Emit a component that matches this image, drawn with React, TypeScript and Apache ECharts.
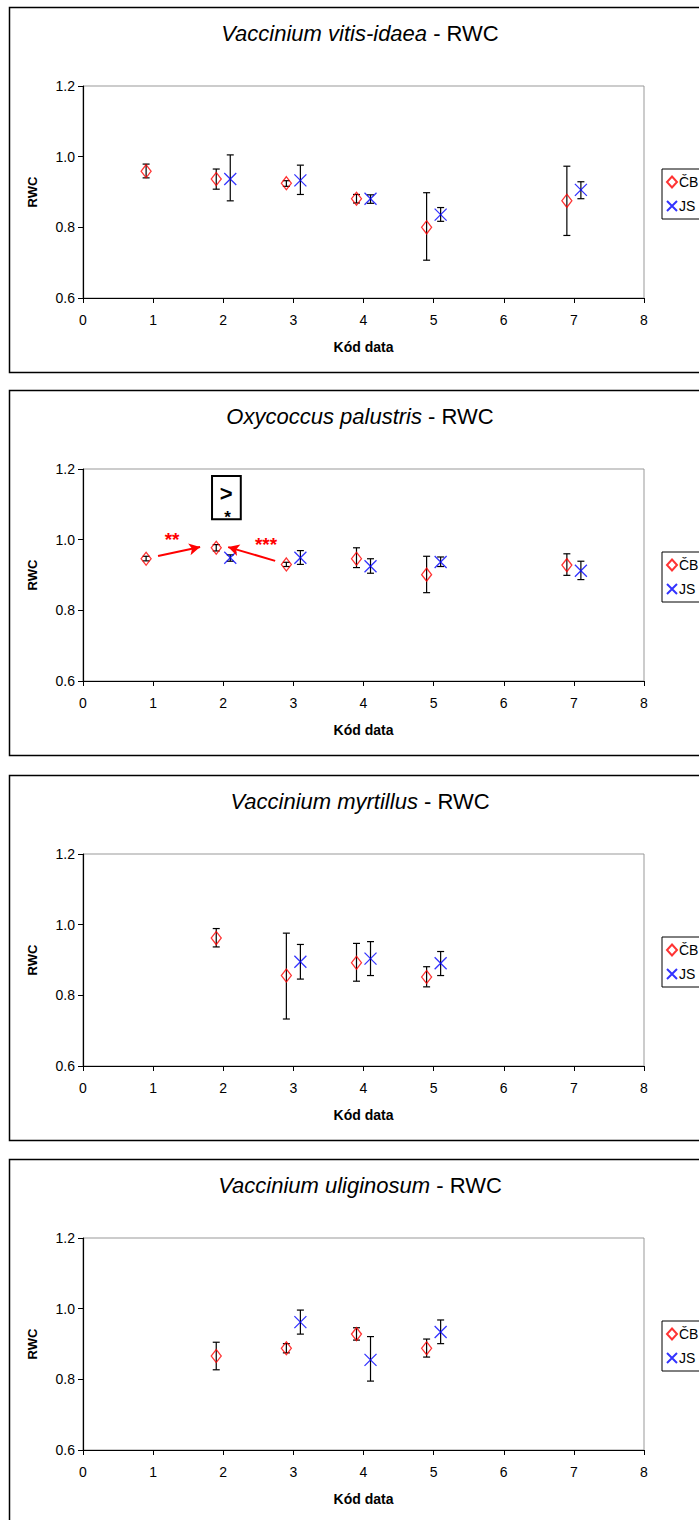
import React, { useEffect, useRef } from "react";
import * as echarts from "echarts";

const FONT = "'Liberation Sans', Arial, sans-serif";

const speciesNames = ["Vaccinium vitis-idaea", "Oxycoccus palustris", "Vaccinium myrtillus", "Vaccinium uliginosum"];
const titleSuffix = " - RWC";
const seriesNames = ["ČB", "JS"];
const xAxisName = "Kód data";
const yAxisName = "RWC";
const xTicks = [0, 1, 2, 3, 4, 5, 6, 7, 8];
const yTicks = [0.6, 0.8, 1.0, 1.2];

// Chart 1 – Vaccinium vitis-idaea
const vvCbX = [0.9, 1.9, 2.9, 3.9, 4.9, 6.9];
const vvCbY = [0.959, 0.937, 0.925, 0.881, 0.8, 0.875];
const vvCbLo = [0.94, 0.908, 0.916, 0.869, 0.707, 0.777];
const vvCbHi = [0.979, 0.965, 0.932, 0.893, 0.898, 0.973];
const vvJsX = [2.1, 3.1, 4.1, 5.1, 7.1];
const vvJsY = [0.937, 0.933, 0.881, 0.836, 0.906];
const vvJsLo = [0.875, 0.893, 0.868, 0.817, 0.881];
const vvJsHi = [1.005, 0.976, 0.892, 0.856, 0.929];

// Chart 2 – Oxycoccus palustris
const opCbX = [0.9, 1.9, 2.9, 3.9, 4.9, 6.9];
const opCbY = [0.946, 0.977, 0.93, 0.946, 0.901, 0.928];
const opCbLo = [0.94, 0.968, 0.924, 0.921, 0.85, 0.899];
const opCbHi = [0.953, 0.986, 0.936, 0.977, 0.953, 0.96];
const opJsX = [2.1, 3.1, 4.1, 5.1, 7.1];
const opJsY = [0.949, 0.949, 0.925, 0.937, 0.912];
const opJsLo = [0.939, 0.93, 0.905, 0.924, 0.887];
const opJsHi = [0.957, 0.969, 0.946, 0.951, 0.939];

// Chart 3 – Vaccinium myrtillus
const vmCbX = [1.9, 2.9, 3.9, 4.9];
const vmCbY = [0.962, 0.856, 0.892, 0.852];
const vmCbLo = [0.937, 0.733, 0.84, 0.824];
const vmCbHi = [0.989, 0.976, 0.947, 0.881];
const vmJsX = [3.1, 4.1, 5.1];
const vmJsY = [0.895, 0.904, 0.891];
const vmJsLo = [0.846, 0.856, 0.856];
const vmJsHi = [0.944, 0.952, 0.924];

// Chart 4 – Vaccinium uliginosum
const vuCbX = [1.9, 2.9, 3.9, 4.9];
const vuCbY = [0.866, 0.888, 0.928, 0.888];
const vuCbLo = [0.827, 0.875, 0.911, 0.863];
const vuCbHi = [0.905, 0.901, 0.946, 0.914];
const vuJsX = [3.1, 4.1, 5.1];
const vuJsY = [0.962, 0.855, 0.934];
const vuJsLo = [0.928, 0.795, 0.901];
const vuJsHi = [0.996, 0.921, 0.968];

// Significance annotations (chart 2), in data coordinates
const sigArrows = [
  [[1.07, 0.954], [1.67, 0.979]],
  [[2.74, 0.94], [2.07, 0.979]],
];
const sigLabels = [
  { text: "**", coord: [1.27, 1.0] },
  { text: "***", coord: [2.61, 0.986] },
];
const sigBox = [[1.84, 1.18], [2.25, 1.058]];
const sigBoxTexts = [
  { text: ">", coord: [2.04, 1.132], size: 22 },
  { text: "*", coord: [2.06, 1.062], size: 17 },
];

const charts = [
  { cb: [vvCbX, vvCbY, vvCbLo, vvCbHi], js: [vvJsX, vvJsY, vvJsLo, vvJsHi] },
  { cb: [opCbX, opCbY, opCbLo, opCbHi], js: [opJsX, opJsY, opJsLo, opJsHi] },
  { cb: [vmCbX, vmCbY, vmCbLo, vmCbHi], js: [vmJsX, vmJsY, vmJsLo, vmJsHi] },
  { cb: [vuCbX, vuCbY, vuCbLo, vuCbHi], js: [vuJsX, vuJsY, vuJsLo, vuJsHi] },
];

const FRAME_TOPS = [7, 390, 775, 1159];
const X_SYMBOL = "path://M0,0L10,10M10,0L0,10";

function rows(arr: number[][]) {
  const [x, y, lo, hi] = arr;
  return x.map((xv, i) => [xv, y[i], lo[i], hi[i]]);
}

function errorRender(params: any, api: any) {
  const x = api.value(0);
  const top = api.coord([x, api.value(3)]);
  const bot = api.coord([x, api.value(2)]);
  const w = 3.5;
  const st = { stroke: "#000", lineWidth: 1.2 };
  return {
    type: "group",
    children: [
      { type: "line", shape: { x1: top[0], y1: top[1], x2: bot[0], y2: bot[1] }, style: st },
      { type: "line", shape: { x1: top[0] - w, y1: top[1], x2: top[0] + w, y2: top[1] }, style: st },
      { type: "line", shape: { x1: bot[0] - w, y1: bot[1], x2: bot[0] + w, y2: bot[1] }, style: st },
    ],
  };
}

export default function App() {
  const ref = useRef<HTMLDivElement>(null);
  useEffect(() => {
    if (!ref.current) return;
    const chart = echarts.init(ref.current, null, { renderer: "svg" });
    const grid: any[] = [];
    const xAxis: any[] = [];
    const yAxis: any[] = [];
    const series: any[] = [];
    const legend: any[] = [];
    const graphic: any[] = [];

    FRAME_TOPS.forEach((T, i) => {
      graphic.push({
        type: "rect",
        shape: { x: 9.5, y: T + 0.5, width: 740, height: 365 },
        style: { fill: "#fff", stroke: "#000", lineWidth: 1.5 },
        z: -10,
        silent: true,
      });
      graphic.push({
        type: "text",
        x: 360,
        y: T + 26,
        z: 10,
        style: {
          text: `{i|${speciesNames[i]}}{n|${titleSuffix}}`,
          textAlign: "center",
          textVerticalAlign: "middle",
          align: "center",
          verticalAlign: "middle",
          rich: {
            i: { fontStyle: "italic", fontSize: 22, fontFamily: FONT, fill: "#000" },
            n: { fontSize: 22, fontFamily: FONT, fill: "#000" },
          },
        },
      });
      grid.push({
        left: 83,
        width: 561,
        top: T + 79,
        height: 212,
        show: true,
        backgroundColor: "#fff",
        borderColor: "#999",
        borderWidth: 1,
        z: 0,
      });
      xAxis.push({
        gridIndex: i,
        type: "value",
        min: xTicks[0],
        max: xTicks[xTicks.length - 1],
        interval: 1,
        axisLine: { show: true, onZero: false, lineStyle: { color: "#000", width: 1.2 } },
        axisTick: { show: true, inside: false, length: 5, lineStyle: { color: "#000" } },
        axisLabel: { fontSize: 14, color: "#000", fontFamily: FONT, margin: 15 },
        splitLine: { show: false },
        name: xAxisName,
        nameLocation: "middle",
        nameGap: 42,
        nameTextStyle: { fontWeight: "bold", fontSize: 14, color: "#000", fontFamily: FONT },
      });
      yAxis.push({
        gridIndex: i,
        type: "value",
        min: yTicks[0],
        max: yTicks[yTicks.length - 1],
        interval: 0.2,
        axisLine: { show: true, onZero: false, lineStyle: { color: "#000", width: 1.2 } },
        axisTick: { show: true, inside: false, length: 5, lineStyle: { color: "#000" } },
        axisLabel: { fontSize: 14, color: "#000", fontFamily: FONT, margin: 8, formatter: (v: number) => v.toFixed(1) },
        splitLine: { show: false },
        name: yAxisName,
        nameLocation: "middle",
        nameGap: 44,
        nameTextStyle: { fontWeight: "bold", fontSize: 13, color: "#000", fontFamily: FONT },
      });
      legend.push({
        data: seriesNames,
        orient: "vertical",
        left: 662,
        top: T + 162,
        itemWidth: 10,
        itemHeight: 11,
        itemGap: 10,
        padding: [6, 12, 6, 4],
        borderColor: "#000",
        borderWidth: 1,
        backgroundColor: "#fff",
        textStyle: { fontSize: 14, color: "#000", fontFamily: FONT, padding: [0, 0, 0, -3] },
        selectedMode: false,
      });

      const c = charts[i];
      series.push({
        type: "custom",
        name: "err-cb-" + i,
        xAxisIndex: i,
        yAxisIndex: i,
        data: rows(c.cb),
        encode: { x: 0, y: 1 },
        renderItem: errorRender,
        z: 2,
        silent: true,
      });
      series.push({
        type: "custom",
        name: "err-js-" + i,
        xAxisIndex: i,
        yAxisIndex: i,
        data: rows(c.js),
        encode: { x: 0, y: 1 },
        renderItem: errorRender,
        z: 2,
        silent: true,
      });
      const cbSeries: any = {
        type: "scatter",
        name: seriesNames[0],
        xAxisIndex: i,
        yAxisIndex: i,
        data: rows(c.cb).map((r) => [r[0], r[1]]),
        symbol: "diamond",
        symbolSize: [10, 13],
        itemStyle: { color: "rgba(255,255,255,0)", borderColor: "#ff0000", borderWidth: 1.3 },
        z: 3,
        silent: true,
      };
      if (i === 1) {
        cbSeries.markLine = {
          silent: true,
          symbol: ["none", "arrow"],
          symbolSize: [9, 11],
          label: { show: false },
          lineStyle: { color: "#ff0000", width: 2, type: "solid" },
          data: sigArrows.map(([a, b]) => [{ coord: a }, { coord: b }]),
        };
        cbSeries.markArea = {
          silent: true,
          itemStyle: { color: "#fff", borderColor: "#000", borderWidth: 2 },
          label: { show: false },
          data: [[{ coord: sigBox[0] }, { coord: sigBox[1] }]],
        };
        cbSeries.markPoint = {
          silent: true,
          symbol: "circle",
          symbolSize: 1,
          itemStyle: { color: "rgba(0,0,0,0)" },
          data: [
            ...sigLabels.map((s) => ({
              coord: s.coord,
              label: { show: true, position: "inside", formatter: s.text, color: "#ff0000", fontWeight: "bold", fontSize: 19, fontFamily: FONT },
            })),
            ...sigBoxTexts.map((s) => ({
              coord: s.coord,
              label: { show: true, position: "inside", formatter: s.text, color: "#000", fontWeight: "bold", fontSize: s.size, fontFamily: FONT },
            })),
          ],
        };
      }
      series.push(cbSeries);
      series.push({
        type: "scatter",
        name: seriesNames[1],
        xAxisIndex: i,
        yAxisIndex: i,
        data: rows(c.js).map((r) => [r[0], r[1]]),
        symbol: X_SYMBOL,
        symbolSize: [12, 12],
        itemStyle: { color: "rgba(0,0,0,0)", borderColor: "#0000ff", borderWidth: 1.3 },
        z: 3,
        silent: true,
      });
    });

    chart.setOption({
      animation: false,
      backgroundColor: "#fff",
      textStyle: { fontFamily: FONT },
      grid,
      xAxis,
      yAxis,
      series,
      legend,
      graphic,
    });
    return () => chart.dispose();
  }, []);
  return (
    <div
      ref={ref}
      style={{ position: "absolute", left: 0, top: 0, width: 699, height: 1520, background: "#fff" }}
    />
  );
}
